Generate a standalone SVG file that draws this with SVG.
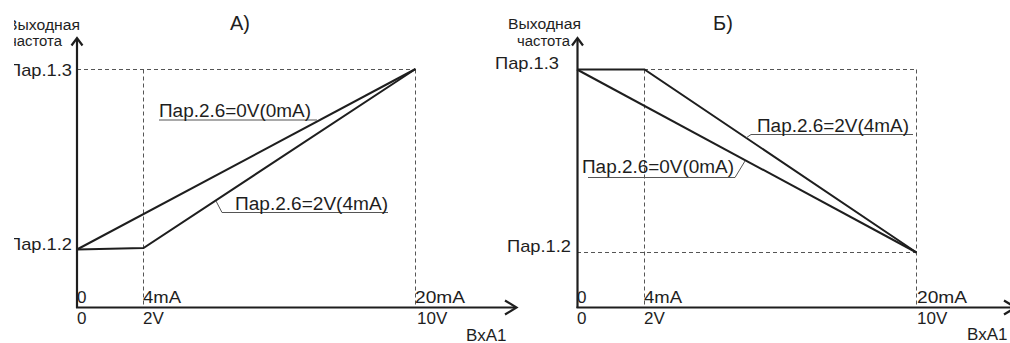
<svg xmlns="http://www.w3.org/2000/svg" width="1010" height="343" viewBox="0 0 1010 343">
<style>
text{font-family:"Liberation Sans",Arial,sans-serif;fill:#1e1e1e}
.ax{stroke:#1e1e1e;stroke-width:2.2;fill:none}
.cv{stroke:#1e1e1e;stroke-width:2;fill:none;stroke-linejoin:miter}
.ds{stroke:#555;stroke-width:1;stroke-dasharray:4 3;fill:none}
.ul{stroke:#555;stroke-width:1;fill:none}
.t15{font-size:15.5px}
.t16{font-size:17px}
.t17{font-size:17px}
.t18{font-size:18px}
.t20{font-size:20px}
</style>
<defs>
<clipPath id="clipA"><rect x="14" y="0" width="496" height="343"/></clipPath>
</defs>
<rect width="1010" height="343" fill="#fff"/>

<g id="chartA">
  <g id="gridA">
    <path class="ds" d="M77 69.5H415.5M143.5 69.5V307M415.5 69.5V307"/>
  </g>
  <g id="connectorsA">
    <path class="cv" d="M77 249.5L415.5 69"/>
    <path class="cv" d="M77 249.5L143.5 248L415.5 69"/>
    <path class="ul" d="M159 120H317"/>
    <path class="ul" d="M216 201L222 212.5H388"/>
  </g>
  <g id="axesA">
    <path class="ax" d="M77 308V39"/>
    <path class="ax" d="M71.5 45.5L77 38L82.5 45.5"/>
    <path class="ax" d="M76 307.5H516"/>
    <path class="ax" d="M505 300.5L516.5 307.5L505 314.5"/>
  </g>
  <g id="labelsA">
    <g clip-path="url(#clipA)">
      <text class="t15" x="7" y="30" textLength="73" lengthAdjust="spacingAndGlyphs">Выходная</text>
      <text class="t15" x="9" y="46" textLength="53" lengthAdjust="spacingAndGlyphs">частота</text>
      <text class="t16" x="8" y="76" textLength="64" lengthAdjust="spacingAndGlyphs">Пар.1.3</text>
      <text class="t16" x="8" y="250" textLength="64" lengthAdjust="spacingAndGlyphs">Пар.1.2</text>
    </g>
    <text class="t20" x="230" y="30">А)</text>
    <text class="t18" x="159" y="117" textLength="152" lengthAdjust="spacingAndGlyphs">Пар.2.6=0V(0mA)</text>
    <text class="t18" x="235" y="210" textLength="153" lengthAdjust="spacingAndGlyphs">Пар.2.6=2V(4mA)</text>
    <text class="t17" x="77" y="303">0</text>
    <text class="t17" x="143" y="303" textLength="38" lengthAdjust="spacingAndGlyphs">4mA</text>
    <text class="t17" x="415" y="303" textLength="50" lengthAdjust="spacingAndGlyphs">20mA</text>
    <text class="t17" x="77" y="324">0</text>
    <text class="t17" x="143" y="324">2V</text>
    <text class="t17" x="417" y="324">10V</text>
    <text class="t17" x="466" y="341">ВхА1</text>
  </g>
</g>

<g id="chartB">
  <g id="gridB">
    <path class="ds" d="M644 69.5H916.5M644.5 69.5V307M916.5 69.5V307M577 252.5H916.5"/>
  </g>
  <g id="connectorsB">
    <path class="cv" d="M577 69.5H644.5L916.5 252.5"/>
    <path class="cv" d="M577 69.5L916.5 252.5"/>
    <path class="ul" d="M746 138L751 134.5H913"/>
    <path class="ul" d="M588 177.5H735L745 161"/>
  </g>
  <g id="axesB">
    <path class="ax" d="M577.5 308V39"/>
    <path class="ax" d="M572 45.5L577.5 38L583 45.5"/>
    <path class="ax" d="M576.5 307.5H1012"/>
    <path class="ax" d="M1004 300.5L1015.5 307.5L1004 314.5"/>
  </g>
  <g id="labelsB">
    <text class="t15" x="508" y="29" textLength="73" lengthAdjust="spacingAndGlyphs">Выходная</text>
    <text class="t15" x="517" y="46" textLength="53" lengthAdjust="spacingAndGlyphs">частота</text>
    <text class="t16" x="495" y="69" textLength="64" lengthAdjust="spacingAndGlyphs">Пар.1.3</text>
    <text class="t16" x="507" y="252" textLength="64" lengthAdjust="spacingAndGlyphs">Пар.1.2</text>
    <text class="t20" x="713" y="30">Б)</text>
    <text class="t18" x="757" y="132" textLength="152" lengthAdjust="spacingAndGlyphs">Пар.2.6=2V(4mA)</text>
    <text class="t18" x="582" y="173" textLength="152" lengthAdjust="spacingAndGlyphs">Пар.2.6=0V(0mA)</text>
    <text class="t17" x="577" y="303">0</text>
    <text class="t17" x="644" y="303" textLength="38" lengthAdjust="spacingAndGlyphs">4mA</text>
    <text class="t17" x="917" y="303" textLength="50" lengthAdjust="spacingAndGlyphs">20mA</text>
    <text class="t17" x="577" y="324">0</text>
    <text class="t17" x="644" y="324">2V</text>
    <text class="t17" x="917" y="324">10V</text>
    <text class="t17" x="967" y="340">ВхА1</text>
  </g>
</g>
</svg>
